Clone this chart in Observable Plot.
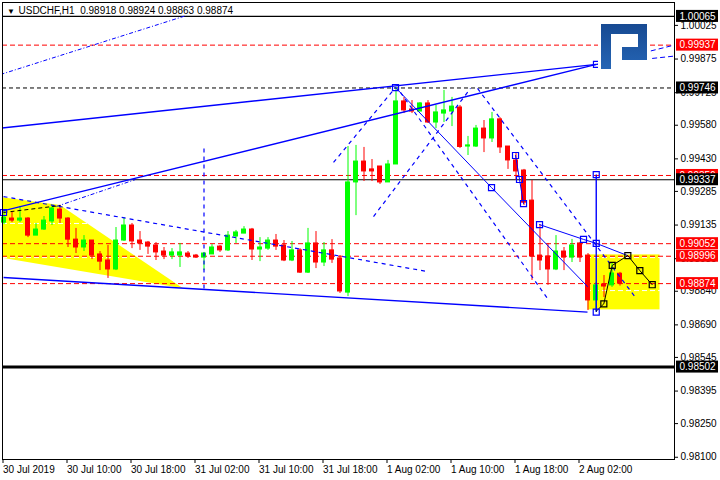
<!DOCTYPE html>
<html><head><meta charset="utf-8">
<script src="https://cdn.jsdelivr.net/npm/d3@7"></script>
<script src="https://cdn.jsdelivr.net/npm/@observablehq/plot@0.6"></script>
<style>body{margin:0;background:#fff}</style>
</head><body><div id="chart"></div>
<script>
const FONT = '"Liberation Sans",Arial,sans-serif';
const symbol = "USDCHF,H1";
// H1 bars, bar 0 = 30 Jul 2019 02:00
const open = [0.99146,0.99164,0.99155,0.99164,0.99088,0.99115,0.99151,0.99204,0.99164,0.99070,
0.99035,0.99066,0.99004,0.98977,0.98937,0.99066,0.99133,0.99066,0.99057,0.99044,
0.99017,0.98999,0.98999,0.99008,0.98999,0.98990,0.99004,0.99039,0.99022,0.99084,
0.99097,0.99115,0.99026,0.99030,0.99066,0.99044,0.98977,0.99022,0.98923,0.99053,
0.98968,0.99022,0.98986,0.98834,0.99325,0.99418,0.99383,0.99396,0.99325,0.99405,
0.99686,0.99650,0.99641,0.99677,0.99592,0.99632,0.99641,0.99659,0.99485,0.99485,
0.99565,0.99521,0.99606,0.99485,0.99423,0.99378,0.99244,0.98999,0.98995,0.98937,
0.99017,0.98990,0.99053,0.98999,0.98799,0.98870,0.98866,0.98918];
const high = [0.99195,0.99191,0.99218,0.99168,0.99142,0.99173,0.99222,0.99222,0.99168,0.99120,
0.99088,0.99066,0.99017,0.99044,0.99124,0.99168,0.99142,0.99106,0.99062,0.99057,
0.99035,0.99030,0.99053,0.99017,0.99004,0.99013,0.99048,0.99044,0.99106,0.99111,
0.99128,0.99120,0.99079,0.99079,0.99093,0.99066,0.99062,0.99030,0.99120,0.99106,
0.99057,0.99070,0.98999,0.99485,0.99490,0.99481,0.99427,0.99396,0.99423,0.99748,
0.99704,0.99690,0.99681,0.99690,0.99668,0.99735,0.99704,0.99668,0.99530,0.99579,
0.99601,0.99637,0.99614,0.99485,0.99458,0.99383,0.99334,0.99137,0.99053,0.99088,
0.99035,0.99071,0.99057,0.99008,0.98879,0.98910,0.98964,0.98924];
const low = [0.99137,0.99146,0.99146,0.99079,0.99088,0.99111,0.99133,0.99142,0.99035,0.99008,
0.99017,0.98981,0.98932,0.98897,0.98932,0.99062,0.99030,0.99022,0.99004,0.98977,
0.98981,0.98981,0.98946,0.98986,0.98986,0.98932,0.99004,0.99013,0.99017,0.99053,
0.99097,0.98977,0.98972,0.99022,0.99022,0.98972,0.98972,0.98919,0.98919,0.98941,
0.98950,0.98964,0.98830,0.98816,0.99177,0.99329,0.99329,0.99316,0.99325,0.99405,
0.99632,0.99632,0.99641,0.99588,0.99565,0.99592,0.99574,0.99476,0.99445,0.99481,
0.99458,0.99503,0.99454,0.99383,0.99334,0.99222,0.98888,0.98932,0.98866,0.98932,
0.98932,0.98968,0.98968,0.98754,0.98750,0.98812,0.98857,0.98863];
const close = [0.99168,0.99155,0.99164,0.99088,0.99115,0.99155,0.99209,0.99164,0.99070,0.99035,
0.99066,0.98999,0.98972,0.98937,0.99066,0.99133,0.99062,0.99053,0.99039,0.99013,
0.98999,0.99013,0.99013,0.98995,0.98990,0.99008,0.99035,0.99022,0.99088,0.99102,
0.99115,0.99026,0.99035,0.99066,0.99039,0.98977,0.99022,0.98923,0.99053,0.98968,
0.99022,0.98981,0.98839,0.99325,0.99418,0.99374,0.99374,0.99325,0.99405,0.99686,
0.99646,0.99641,0.99677,0.99592,0.99637,0.99646,0.99663,0.99483,0.99490,0.99565,
0.99521,0.99606,0.99481,0.99423,0.99374,0.99235,0.98995,0.98977,0.98937,0.99017,
0.98990,0.99044,0.98990,0.98799,0.98866,0.98861,0.98919,0.98874];

const xTickBars = [0,8,16,24,32,40,48,56,64,72];
const xTickLabels = ["30 Jul 2019","30 Jul 10:00","30 Jul 18:00","31 Jul 02:00","31 Jul 10:00","31 Jul 18:00","1 Aug 02:00","1 Aug 10:00","1 Aug 18:00","2 Aug 02:00"];
const yTicks = [0.98100,0.98250,0.98395,0.98545,0.98690,0.98840,0.98985,0.99135,0.99285,0.99430,0.99580,0.99725,0.99875,1.00025];

const redLevels = [0.99937,0.99356,0.99052,0.98996,0.98874];
const blackLevels = [1.00065,0.99337];
const dashedBlackLevels = [0.99746];
const supportLevels = [0.98502];
const whiteLevels = [0.99142,0.98990,0.98843];

// annotation geometry in (bar, price)
const triTopX = [-0.56, 7.06, 22.44], triTopY = [0.99258, 0.99222, 0.98851];
const triBaseX = [-0.56, 22.44, 22.44], triBaseY = [0.98989, 0.98851, 0.98851];
const targetBox = [73, 0.98757, 82, 0.99002];
const solidTrends = [[-0.5,0.99567,74.06,0.99851],[-0.5,0.99195,74.06,0.99851],[-0.06,0.98901,72.94,0.98747],[74.03,0.99360,74.03,0.98747]];
const trendExtensions = [[74.06,0.99851,84,0.99889],[74.06,0.99851,84,0.99939]];
const dashedTrends = [[-0.06,0.99262,52.9,0.98928],[41.19,0.99414,48.94,0.99748],[46.19,0.99173,58.31,0.99744],[49.56,0.99726,67.94,0.98808],[59.19,0.99744,78.94,0.98812],[25,0.99476,25,0.98843]];
const dashDotTrends = [[-0.44,0.99806,22.8,1.00069],[6.56,0.99218,16.44,0.99338]];
const blackDashedTrends = [[-0.06,0.99191,7.06,0.99222]];
const thinPaths = [
  [[48.94,0.99748],[60.94,0.99302],[72.94,0.98861]],
  [[66.94,0.99137],[72.44,0.99071],[74.06,0.99053],[77.94,0.98999]],
  [[63.94,0.99445],[64.44,0.99338],[64.94,0.99231]]
];
const forecastPath = [[74.03,0.98751],[74.98,0.98784],[76.03,0.98955],[77.98,0.98999],[79.48,0.98932],[81.03,0.98869]];
const blueAnchors = [[48.94,0.99748],[74.06,0.99851],[60.94,0.99302],[63.94,0.99445],[64.44,0.99338],[64.94,0.99231],[66.94,0.99137],[72.44,0.99071],[74.03,0.99053],[74.03,0.99360],[74.03,0.98747],[-0.06,0.99191]];
const blackAnchors = [[74.98,0.98784],[76.03,0.98955],[77.98,0.98999],[79.48,0.98932],[81.03,0.98869]];

// view
const W = 720, H = 480;
const M = {left: 2, right: 46, top: 2, bottom: 21};
const view = {x0: -0.1875, x1: 83.8125, y0: 0.98090, y1: 1.00127};
const pxPerBar = (W - M.left - M.right) / (view.x1 - view.x0);
const pxPerUnit = (H - M.top - M.bottom) / (view.y1 - view.y0);

const candles = open.map((o, i) => ({i, o, h: high[i], l: low[i], c: close[i]}));
const candleColor = d => d.c >= d.o ? "#00ff00" : "#ff0000";
const bodyHalf = 2 / pxPerBar;
const fmt = d3.format(".5f");
const last = candles[candles.length - 1];
const title = `${symbol}  ${fmt(last.o)} ${fmt(last.h)} ${fmt(last.l)} ${fmt(last.c)}`;
const tri = triTopX.map((x, k) => ({tx: x, ty: triTopY[k], bx: triBaseX[k], by: triBaseY[k]}));
const tagH = 6 / pxPerUnit;
const tagX1 = view.x1 + 2 / pxPerBar, tagX2 = view.x1 + 44 / pxPerBar;
const blackTags = [...blackLevels, ...dashedBlackLevels, ...supportLevels];
const FS = 10;

const seg = (data, o) => Plot.link(data, {x1: d => d[0], y1: d => d[1], x2: d => d[2], y2: d => d[3], clip: true, ...o});

const chart = Plot.plot({
  width: W, height: H,
  marginLeft: M.left, marginRight: M.right, marginTop: M.top, marginBottom: M.bottom,
  x: {domain: [view.x0, view.x1], axis: null},
  y: {domain: [view.y0, view.y1], axis: null},
  color: {type: "identity"},
  style: {fontFamily: FONT, fontSize: FS + "px", background: "white", color: "black", overflow: "visible"},
  marks: [
    Plot.area(tri, {x1: "bx", y1: "by", x2: "tx", y2: "ty", fill: "#ffff00", clip: true}),
    Plot.rect([targetBox], {x1: d => d[0], y1: d => d[1], x2: d => d[2], y2: d => d[3], fill: "#ffff00"}),
    Plot.ruleY(whiteLevels, {stroke: "white", strokeDasharray: "5,3"}),
    Plot.ruleY(redLevels, {stroke: "#ff0000", strokeDasharray: "5,3"}),
    Plot.ruleY(dashedBlackLevels, {stroke: "black", strokeDasharray: "4,3"}),
    Plot.ruleY(blackLevels, {stroke: "black", strokeWidth: 1.2}),
    Plot.ruleY(supportLevels, {stroke: "black", strokeWidth: 3}),
    Plot.ruleX(candles, {x: "i", y1: "l", y2: "h", stroke: candleColor}),
    Plot.rect(candles, {x1: d => d.i - bodyHalf, x2: d => d.i + bodyHalf, y1: d => Math.min(d.o, d.c), y2: d => Math.max(d.o, d.c), fill: candleColor, stroke: candleColor}),
    seg(solidTrends, {stroke: "#0000ff", strokeWidth: 1.4}),
    seg(trendExtensions, {stroke: "#0000ff", strokeDasharray: "5,3"}),
    seg(dashedTrends, {stroke: "#0000ff", strokeWidth: 1.2, strokeDasharray: "4,4"}),
    seg(dashDotTrends, {stroke: "#0000ff", strokeDasharray: "4,2,1,2"}),
    seg(blackDashedTrends, {stroke: "black", strokeDasharray: "4,3"}),
    ...thinPaths.map(p => Plot.line(p, {x: d => d[0], y: d => d[1], stroke: "#0000ff", strokeWidth: 1})),
    Plot.line(forecastPath, {x: d => d[0], y: d => d[1], stroke: "black", strokeWidth: 1}),
    Plot.dot(blueAnchors, {x: d => d[0], y: d => d[1], symbol: "square", r: 3.4, stroke: "#0000ff", fill: "none", strokeWidth: 1.2}),
    Plot.dot(blackAnchors, {x: d => d[0], y: d => d[1], symbol: "square", r: 3.4, stroke: "black", fill: "none", strokeWidth: 1.2}),
    Plot.frame({stroke: "black"}),
    Plot.axisY({ticks: yTicks, anchor: "right", tickFormat: fmt, tickSize: 3, tickPadding: 3, fontSize: FS}),
    Plot.axisX({ticks: xTickBars, anchor: "bottom", tickFormat: i => xTickLabels[xTickBars.indexOf(i)], tickSize: 4, tickPadding: 2, textAnchor: "start", dx: -1, fontSize: FS}),
    Plot.rect(redLevels, {x1: tagX1, x2: tagX2, y1: d => d - tagH, y2: d => d + tagH, fill: "#ff0000"}),
    Plot.text(redLevels, {x: view.x1, y: d => d, dx: 5, text: fmt, textAnchor: "start", fill: "white", fontSize: FS}),
    Plot.rect(blackTags, {x1: tagX1, x2: tagX2, y1: d => d - tagH, y2: d => d + tagH, fill: "black"}),
    Plot.text(blackTags, {x: view.x1, y: d => d, dx: 5, text: fmt, textAnchor: "start", fill: "white", fontSize: FS}),
    Plot.text([title], {frameAnchor: "top-left", dx: 16, dy: 8, lineAnchor: "middle", textAnchor: "start", fill: "black", fontSize: FS}),
    Plot.text(["\u25BC"], {frameAnchor: "top-left", dx: 4.5, dy: 8.5, lineAnchor: "middle", textAnchor: "start", fill: "black", fontSize: 8})
  ]
});

// broker logo (decoration)
const svg = d3.select(chart);
const g = svg.append("g");
g.append("rect").attr("x", 598).attr("y", 18).attr("width", 52).attr("height", 62).attr("fill", "white");
const defs = svg.append("defs");
const grad = defs.append("linearGradient").attr("id", "lg").attr("x1", 0).attr("y1", 0).attr("x2", 0).attr("y2", 1);
grad.append("stop").attr("offset", "0").attr("stop-color", "#174a92");
grad.append("stop").attr("offset", "1").attr("stop-color", "#2565b5");
g.append("path").attr("d", "M601,24H647V60H622V47H638V34H611V69H601Z").attr("fill", "url(#lg)");

document.getElementById("chart").appendChild(chart);
</script>
</body></html>
